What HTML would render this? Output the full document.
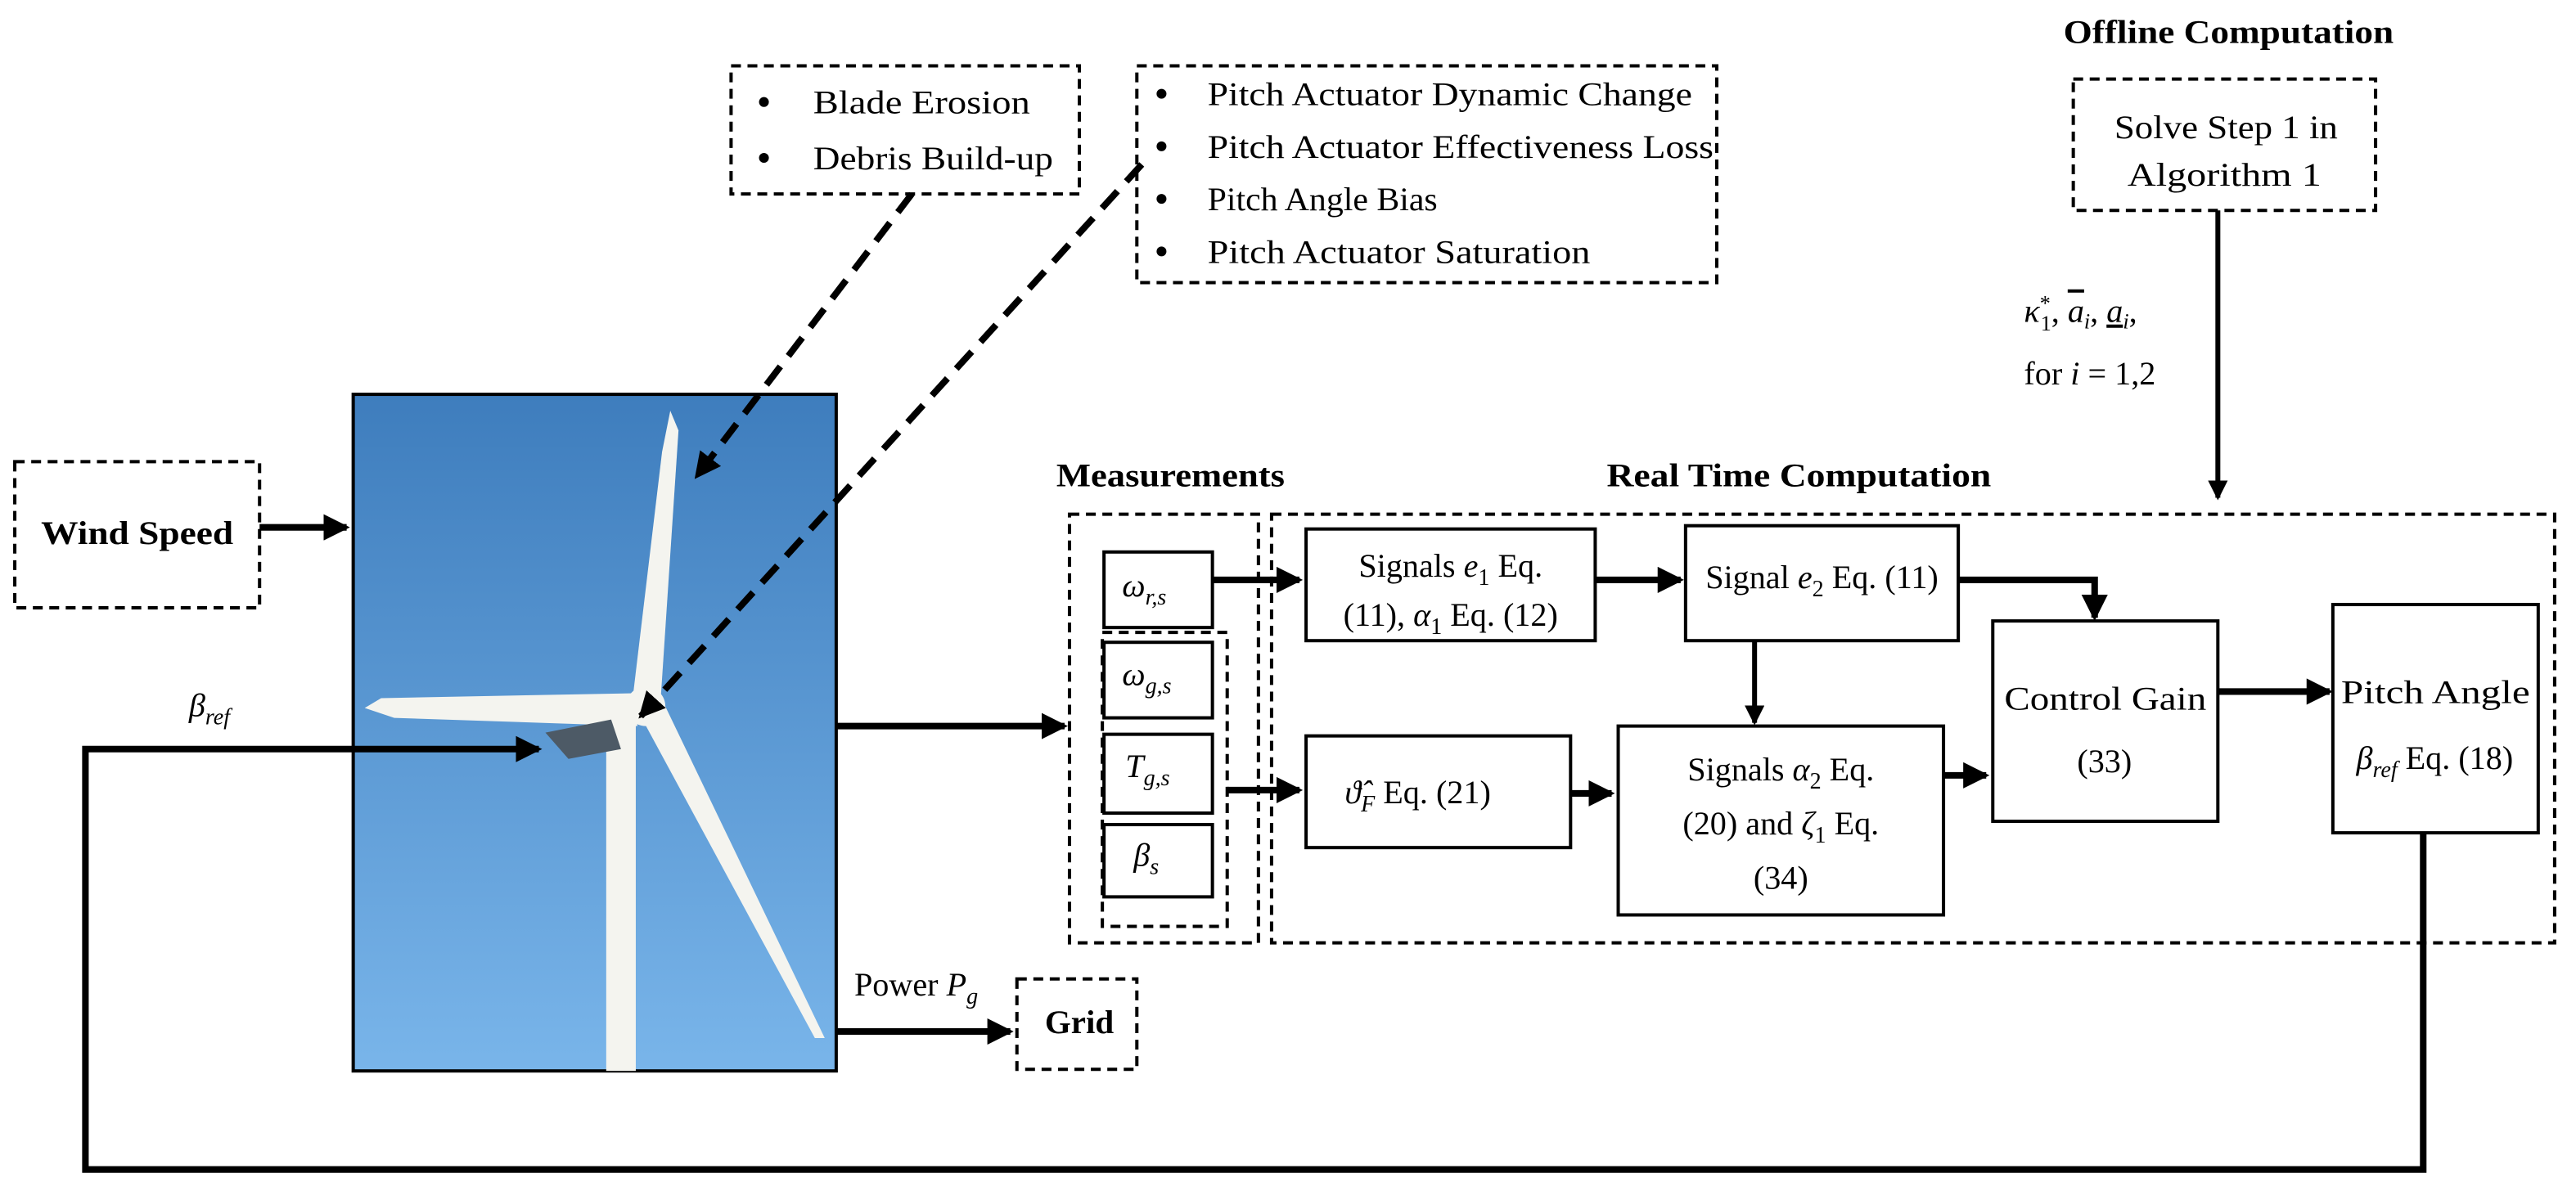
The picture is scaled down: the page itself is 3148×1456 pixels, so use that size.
<!DOCTYPE html>
<html><head><meta charset="utf-8"><style>html,body{margin:0;padding:0;background:#fff}svg{display:block}text{font-family:"Liberation Serif",serif;font-size:20px;fill:#000}.b{font-weight:bold}</style></head><body>
<svg width="3148" height="1456" viewBox="0 0 1568 725" xmlns="http://www.w3.org/2000/svg" font-family="Liberation Serif, serif">
<defs>
<marker id="a2" markerWidth="4" markerHeight="4" refX="3.5" refY="2" orient="auto" markerUnits="strokeWidth"><path d="M0,0 L4,2 L0,4z" fill="#000"/></marker>
<linearGradient id="sky" x1="0" y1="0" x2="0" y2="1"><stop offset="0" stop-color="#3e7dbd"/><stop offset="1" stop-color="#79b5ea"/></linearGradient>
</defs>
<g fill="none" stroke="#000" stroke-width="2" stroke-dasharray="6,4">
<rect x="445" y="40" width="212" height="78"/>
<rect x="692" y="40" width="353" height="132"/>
<rect x="1262" y="48" width="184" height="80"/>
<rect x="9" y="281" width="149" height="89"/>
<rect x="651" y="313" width="115" height="261"/>
<rect x="774" y="313" width="781" height="261"/>
<rect x="671" y="385" width="76" height="179"/>
<rect x="619" y="596" width="73" height="55"/>
</g>
<rect x="215" y="240" width="294" height="412" fill="url(#sky)" stroke="#000" stroke-width="2"/>
<g fill="#f4f4ef">
<rect x="369" y="430" width="18" height="222"/>
<path d="M385,426 L403,275 L408,250 L413,262 L402,428z"/>
<path d="M386,422 L232,425 L222,431 L240,437 L388,442z"/>
<path d="M390,436 L496,632 L502,632 L404,428z"/>
<circle cx="393" cy="430" r="12"/>
</g>
<path d="M332,446 L372,438 L378,456 L346,462z" fill="#4d5a66"/>
<g fill="none" stroke="#000" stroke-width="4">
<line x1="158" y1="321" x2="211" y2="321" marker-end="url(#a2)"/>
<polyline points="1475,507 1475,712 52,712 52,456 328,456" marker-end="url(#a2)"/>
<line x1="509" y1="442" x2="648" y2="442" marker-end="url(#a2)"/>
<line x1="509" y1="628" x2="615" y2="628" marker-end="url(#a2)"/>
<line x1="1350" y1="128" x2="1350" y2="303" marker-end="url(#a2)" stroke-width="3"/>
<line x1="738" y1="353" x2="791" y2="353" marker-end="url(#a2)"/>
<line x1="971" y1="353" x2="1023" y2="353" marker-end="url(#a2)"/>
<polyline points="1192,353 1275,353 1275,376" marker-end="url(#a2)"/>
<line x1="1068" y1="390" x2="1068" y2="440" stroke-width="3" marker-end="url(#a2)"/>
<line x1="747" y1="481" x2="791" y2="481" marker-end="url(#a2)"/>
<line x1="956" y1="483" x2="981" y2="483" marker-end="url(#a2)"/>
<line x1="1183" y1="472" x2="1209" y2="472" marker-end="url(#a2)"/>
<line x1="1350" y1="421" x2="1418" y2="421" marker-end="url(#a2)"/>
<line x1="555" y1="118" x2="424" y2="290" stroke-dasharray="14,8" marker-end="url(#a2)"/>
<line x1="695" y1="100" x2="390" y2="436" stroke-dasharray="14,8" marker-end="url(#a2)"/>
</g>
<g fill="#fff" stroke="#000" stroke-width="2">
<rect x="672" y="336" width="66" height="46"/>
<rect x="672" y="391" width="66" height="46"/>
<rect x="672" y="447" width="66" height="48"/>
<rect x="672" y="502" width="66" height="44"/>
<rect x="795" y="322" width="176" height="68"/>
<rect x="1026" y="320" width="166" height="70"/>
<rect x="1213" y="378" width="137" height="122"/>
<rect x="985" y="442" width="198" height="115"/>
<rect x="795" y="448" width="161" height="68"/>
<rect x="1420" y="368" width="125" height="139"/>
</g>
<g fill="#000"><circle cx="465" cy="62" r="3"/><circle cx="465" cy="96" r="3"/><circle cx="707" cy="57" r="3"/><circle cx="707" cy="89" r="3"/><circle cx="707" cy="121" r="3"/><circle cx="707" cy="153" r="3"/></g>
<text x="495" y="69" textLength="132" lengthAdjust="spacingAndGlyphs">Blade Erosion</text>
<text x="495" y="103" textLength="146" lengthAdjust="spacingAndGlyphs">Debris Build-up</text>
<text x="735" y="64" textLength="295" lengthAdjust="spacingAndGlyphs">Pitch Actuator Dynamic Change</text>
<text x="735" y="96" textLength="308" lengthAdjust="spacingAndGlyphs">Pitch Actuator Effectiveness Loss</text>
<text x="735" y="128" textLength="140" lengthAdjust="spacingAndGlyphs">Pitch Angle Bias</text>
<text x="735" y="160" textLength="233" lengthAdjust="spacingAndGlyphs">Pitch Actuator Saturation</text>
<text x="1256" y="26" class="b" textLength="201" lengthAdjust="spacingAndGlyphs">Offline Computation</text>
<text x="1287" y="84" textLength="136" lengthAdjust="spacingAndGlyphs">Solve Step 1 in</text>
<text x="1295" y="113" textLength="118" lengthAdjust="spacingAndGlyphs">Algorithm 1</text>
<text x="1232" y="196"><tspan font-style="italic">κ</tspan><tspan font-size="13" dy="-7">*</tspan><tspan font-size="13" dx="-6" dy="12">1</tspan><tspan dy="-5">, </tspan><tspan font-style="italic" text-decoration="overline">a</tspan><tspan font-size="13" font-style="italic" dy="4">i</tspan><tspan dy="-4">, </tspan><tspan font-style="italic" text-decoration="underline">a</tspan><tspan font-size="13" font-style="italic" dy="4">i</tspan><tspan dy="-4">,</tspan></text>
<text x="1232" y="234">for <tspan font-style="italic">i</tspan> = 1,2</text>
<text x="25" y="331" class="b" textLength="117" lengthAdjust="spacingAndGlyphs">Wind Speed</text>
<text x="115" y="436" font-style="italic">β<tspan font-size="14" dy="5">ref</tspan></text>
<text x="520" y="606">Power <tspan font-style="italic">P</tspan><tspan font-size="14" font-style="italic" dy="5">g</tspan></text>
<text x="636" y="629" class="b" textLength="42" lengthAdjust="spacingAndGlyphs">Grid</text>
<text x="643" y="296" class="b" textLength="139" lengthAdjust="spacingAndGlyphs">Measurements</text>
<text x="978" y="296" class="b" textLength="234" lengthAdjust="spacingAndGlyphs">Real Time Computation</text>
<text x="683" y="363" font-style="italic">ω<tspan font-size="14" dy="5">r,s</tspan></text>
<text x="683" y="417" font-style="italic">ω<tspan font-size="14" dy="5">g,s</tspan></text>
<text x="685" y="473" font-style="italic">T<tspan font-size="14" dy="5">g,s</tspan></text>
<text x="690" y="527" font-style="italic">β<tspan font-size="14" dy="5">s</tspan></text>
<text x="883" y="351" text-anchor="middle">Signals <tspan font-style="italic">e</tspan><tspan font-size="14" dy="5">1</tspan><tspan dy="-5"> Eq.</tspan></text>
<text x="883" y="381" text-anchor="middle">(11), <tspan font-style="italic">α</tspan><tspan font-size="14" dy="5">1</tspan><tspan dy="-5"> Eq. (12)</tspan></text>
<text x="1109" y="358" text-anchor="middle">Signal <tspan font-style="italic">e</tspan><tspan font-size="14" dy="5">2</tspan><tspan dy="-5"> Eq. (11)</tspan></text>
<text x="1220" y="432" textLength="123" lengthAdjust="spacingAndGlyphs">Control Gain</text>
<text x="1281" y="470" text-anchor="middle">(33)</text>
<text x="1425" y="428" textLength="115" lengthAdjust="spacingAndGlyphs">Pitch Angle</text>
<text x="1482" y="468" text-anchor="middle"><tspan font-style="italic">β</tspan><tspan font-size="14" font-style="italic" dy="5">ref</tspan><tspan dy="-5"> Eq. (18)</tspan></text>
<text x="863" y="489" text-anchor="middle"><tspan font-style="italic">ϑ̂</tspan><tspan font-size="14" font-style="italic" dy="5">F</tspan><tspan dy="-5"> Eq. (21)</tspan></text>
<text x="1084" y="475" text-anchor="middle">Signals <tspan font-style="italic">α</tspan><tspan font-size="14" dy="5">2</tspan><tspan dy="-5"> Eq.</tspan></text>
<text x="1084" y="508" text-anchor="middle">(20) and <tspan font-style="italic">ζ</tspan><tspan font-size="14" dy="5">1</tspan><tspan dy="-5"> Eq.</tspan></text>
<text x="1084" y="541" text-anchor="middle">(34)</text>
</svg>
</body></html>
